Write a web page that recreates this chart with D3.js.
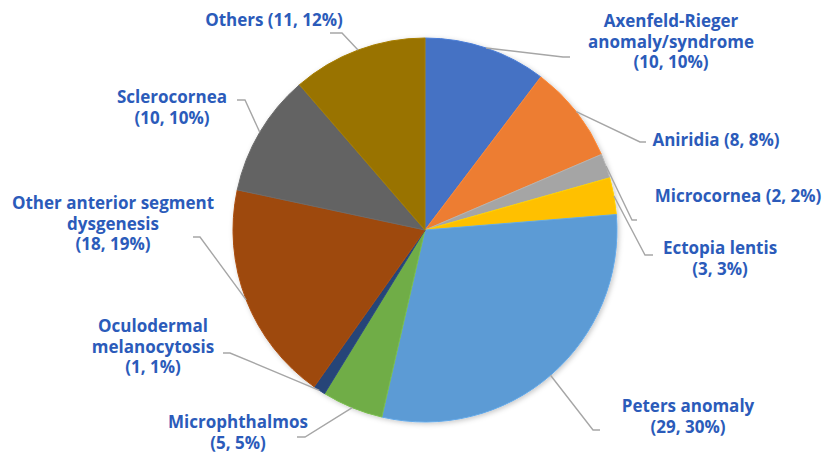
<!DOCTYPE html>
<html>
<head>
<meta charset="utf-8">
<script src="https://cdn.jsdelivr.net/npm/d3@7"></script>
<style>
  body { margin: 0; background: #fff; }
  svg { display: block; }
</style>
</head>
<body>
<script>
// data, clockwise from 12 o'clock
const categories = ['Axenfeld-Rieger anomaly/syndrome', 'Aniridia', 'Microcornea', 'Ectopia lentis',
    'Peters anomaly', 'Microphthalmos', 'Oculodermal melanocytosis',
    'Other anterior segment dysgenesis', 'Sclerocornea', 'Others']
const counts = [10, 8, 2, 3, 29, 5, 1, 18, 10, 11]
const percentLabels = ['10%', '8%', '2%', '3%', '30%', '5%', '1%', '19%', '10%', '12%']
const colors = ['#4472C4', '#ED7D31', '#A5A5A5', '#FFC000', '#5B9BD5', '#70AD47', '#264478', '#9E480E', '#636363', '#997300']

// how each label is broken into lines
const labelLines = [
    ['Axenfeld-Rieger', 'anomaly/syndrome'],
    ['Aniridia'],
    ['Microcornea'],
    ['Ectopia lentis'],
    ['Peters anomaly'],
    ['Microphthalmos'],
    ['Oculodermal', 'melanocytosis'],
    ['Other anterior segment', 'dysgenesis'],
    ['Sclerocornea'],
    ['Others']
]
// labels whose count sits on the same line as the name
const inlineCount = [false, true, true, false, false, false, false, false, false, true]

// label placement: text centre x, first baseline y, leader elbow (ex, ey) and tick end tx
const labelLayout = [
    { x: 671, y: 27, ex: 563, ey: 57, tx: 570 },
    { x: 716, y: 146, ex: 640, ey: 142, tx: 646 },
    { x: 738, y: 202, ex: 632, ey: 220, tx: 637 },
    { x: 720, y: 254, ex: 645, ey: 255, tx: 653 },
    { x: 688, y: 412, ex: 593, ey: 430, tx: 600 },
    { x: 238, y: 428, ex: 305, ey: 437, tx: 297 },
    { x: 153, y: 332, ex: 230, ey: 353, tx: 223 },
    { x: 113, y: 209, ex: 200, ey: 237, tx: 193 },
    { x: 172, y: 103, ex: 245, ey: 100, tx: 237 },
    { x: 274, y: 26, ex: 342, ey: 33, tx: 330 }
]

const w = 825
const h = 453
const cx = 425
const cy = 230
const r = 192
const lineH = 20.5

const svg = d3.select('body')
    .append('svg')
    .attr('width', w)
    .attr('height', h)

// soft shadow under the pie
const defs = svg.append('defs')
defs.append('filter')
    .attr('id', 'shadow')
    .attr('x', '-10%').attr('y', '-10%')
    .attr('width', '120%').attr('height', '120%')
    .append('feDropShadow')
    .attr('dx', 1.5)
    .attr('dy', 1.5)
    .attr('stdDeviation', 2.5)
    .attr('flood-color', '#000')
    .attr('flood-opacity', 0.22)

const pie = d3.pie().sort(null).value(d => d)
const arcs = pie(counts)

const arc = d3.arc().innerRadius(0).outerRadius(r)
const edgeArc = d3.arc().innerRadius(r).outerRadius(r)

const g = svg.append('g')
    .attr('transform', `translate(${cx},${cy})`)

g.append('g')
    .attr('filter', 'url(#shadow)')
    .selectAll('path')
    .data(arcs)
    .enter()
    .append('path')
    .attr('d', arc)
    .attr('fill', (d, i) => colors[i])
    .attr('stroke', (d, i) => d3.color(colors[i]).brighter(0.25))
    .attr('stroke-width', 1)

// leader lines
svg.append('g')
    .selectAll('path')
    .data(arcs)
    .enter()
    .append('path')
    .attr('fill', 'none')
    .attr('stroke', '#A6A6A6')
    .attr('stroke-width', 1.4)
    .attr('d', (d, i) => {
        const p = edgeArc.centroid(d)
        const L = labelLayout[i]
        return `M${cx + p[0]},${cy + p[1]}L${L.ex},${L.ey}L${L.tx},${L.ey}`
    })

// labels
const labels = svg.append('g')
    .style('font-family', '"Open Sans", "Noto Sans", sans-serif')
    .style('font-weight', 700)
    .style('font-size', '17px')
    .attr('fill', '#2B5BBA')
    .attr('text-anchor', 'middle')

categories.forEach((c, i) => {
    const L = labelLayout[i]
    const valueText = `(${counts[i]}, ${percentLabels[i]})`
    let lines = labelLines[i].slice()
    if (inlineCount[i]) {
        lines[lines.length - 1] += ' ' + valueText
    } else {
        lines.push(valueText)
    }
    const t = labels.append('text')
        .attr('x', L.x)
        .attr('y', L.y)
    lines.forEach((s, k) => {
        t.append('tspan')
            .attr('x', L.x)
            .attr('y', L.y + k * lineH)
            .text(s)
    })
})
</script>
</body>
</html>
